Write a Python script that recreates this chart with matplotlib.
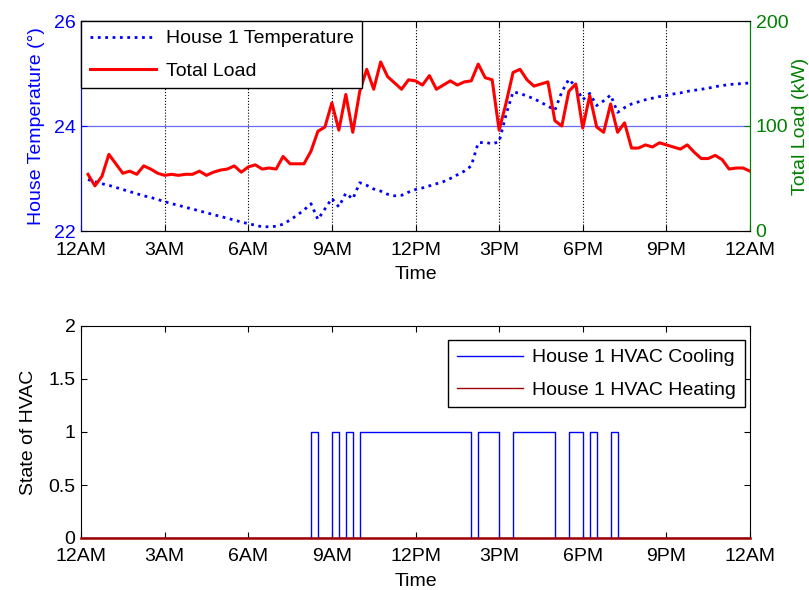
import numpy as np
import matplotlib
matplotlib.use('Agg')
import matplotlib.pyplot as plt
from matplotlib.lines import Line2D

# ---------------- data ----------------
hours = np.arange(1, 97) * 0.25  # 15-minute samples

temp = [22.98, 22.94, 22.90, 22.87, 22.83, 22.79, 22.75, 22.71, 22.67, 22.64, 22.60, 22.56,
        22.52, 22.49, 22.45, 22.42, 22.38, 22.35, 22.31, 22.28, 22.24, 22.21, 22.17, 22.14,
        22.11, 22.08, 22.08, 22.09, 22.13, 22.21, 22.30, 22.40, 22.52, 22.22, 22.42, 22.62,
        22.46, 22.72, 22.61, 22.92, 22.87, 22.80, 22.76, 22.70, 22.67, 22.68, 22.74, 22.79,
        22.82, 22.86, 22.90, 22.94, 23.00, 23.07, 23.14, 23.24, 23.68, 23.69, 23.66, 23.70,
        24.22, 24.65, 24.62, 24.57, 24.52, 24.45, 24.38, 24.30, 24.65, 24.89, 24.75, 24.50,
        24.62, 24.39, 24.48, 24.59, 24.26, 24.35, 24.42, 24.46, 24.50, 24.53, 24.56, 24.58,
        24.61, 24.63, 24.66, 24.68, 24.70, 24.72, 24.75, 24.77, 24.79, 24.80, 24.81, 24.82]

load = [54, 43, 52, 73, 64, 55, 57, 54, 62, 59, 55, 53,
        54, 53, 54, 54, 57, 53, 56, 58, 59, 62, 56, 61,
        63, 59, 60, 59, 71, 64, 64, 64, 76, 95, 99, 122,
        96, 130, 94, 133, 154, 135, 161, 147, 141, 135, 144, 143,
        139, 148, 135, 139, 143, 139, 142, 143, 159, 146, 144, 96,
        122, 151, 154, 144, 138, 140, 142, 105, 100, 133, 140, 98,
        129, 99, 94, 121, 94, 103, 79, 79, 82, 80, 84, 82,
        80, 78, 82, 75, 69, 69, 72, 68, 59, 60, 60, 57]

tick_hours = [0, 3, 6, 9, 12, 15, 18, 21, 24]
tick_labels = ['12AM', '3AM', '6AM', '9AM', '12PM', '3PM', '6PM', '9PM', '12AM']

cool_on = [8.25, 9.0, 9.5, 10.0, 14.25, 15.5, 17.5, 18.25, 19.0]
cool_off = [8.5, 9.25, 9.75, 14.0, 15.0, 17.0, 18.0, 18.5, 19.25]
heat_on = []
heat_off = []


def step_series(ons, offs):
    t, s = [0.0], [0.0]
    for a, b in zip(ons, offs):
        t += [a, a, b, b]
        s += [0, 1, 1, 0]
    t.append(24.0)
    s.append(0.0)
    return t, s


# ---------------- style ----------------
plt.rcParams['font.family'] = ['Liberation Sans', 'DejaVu Sans']
plt.rcParams['font.size'] = 14
BLUE = '#0000ff'
GREEN = '#008000'
RED = '#ff0000'
DRED = '#a00000'

W, H = 809, 590
fig = plt.figure(figsize=(W / 100, H / 100), dpi=100)

L, R = 81, 750
ax1 = fig.add_axes([L / W, 1 - 231 / H, (R - L) / W, 210 / H])
ax2 = ax1.twinx()

l1, = ax1.plot(hours, temp, color=BLUE, lw=2.0, ls=':')
l2, = ax2.plot(hours, load, color=RED, lw=2.2)

ax1.set_xlim(0, 24)
ax1.set_ylim(22, 26)
ax2.set_ylim(0, 200)
ax1.set_xticks(tick_hours)
ax1.set_xticklabels(tick_labels)
ax1.set_yticks([22, 24, 26])
ax2.set_yticks([0, 100, 200])

for x in tick_hours[1:-1]:
    ax1.axvline(x, color='k', ls=':', lw=0.8, zorder=0)
ax1.axhline(24, color='#6a6aff', lw=0.9, zorder=0)

ax1.tick_params(axis='x', direction='in', length=4, top=True, colors='k', labelcolor='k', pad=8)
ax1.tick_params(axis='y', direction='in', length=4, colors=BLUE, labelcolor=BLUE, pad=4)
ax2.tick_params(axis='y', direction='in', length=4, colors=GREEN, labelcolor=GREEN, pad=4)
ax1.spines['left'].set_color(BLUE)
ax2.spines['left'].set_color(BLUE)
ax2.spines['right'].set_color(GREEN)
ax1.spines['right'].set_color(GREEN)
for a in (ax1, ax2):
    a.spines['top'].set_color('k')
    a.spines['bottom'].set_color('k')

ax1.set_xlabel('Time', labelpad=5)
ax1.set_ylabel('House Temperature (°)', color=BLUE, labelpad=6)
ax2.set_ylabel('Total Load (kW)', color=GREEN, labelpad=3)

leg1 = ax2.legend([l1, l2], ['House 1 Temperature', 'Total Load'], loc='upper left',
                  borderaxespad=0, fancybox=False, edgecolor='k', framealpha=1,
                  handlelength=3.4, handletextpad=0.5, borderpad=0.45, labelspacing=0.75)
leg1.get_frame().set_linewidth(1.0)

# ---------------- bottom plot ----------------
ax3 = fig.add_axes([L / W, 1 - 538 / H, (R - L) / W, 212 / H])
tc, sc = step_series(cool_on, cool_off)
th, sh = step_series(heat_on, heat_off)
l3, = ax3.plot(tc, sc, color=BLUE, lw=1.0)
l4, = ax3.plot(th, sh, color=DRED, lw=1.8, zorder=5, clip_on=False)
ax3.set_xlim(0, 24)
ax3.set_ylim(0, 2)
ax3.set_xticks(tick_hours)
ax3.set_xticklabels(tick_labels)
ax3.set_yticks([0, 0.5, 1, 1.5, 2])
ax3.set_yticklabels(['0', '0.5', '1', '1.5', '2'])
ax3.tick_params(direction='in', length=4, top=True, right=True, pad=7)
ax3.tick_params(axis='y', pad=4)
ax3.set_xlabel('Time', labelpad=6)
ax3.set_ylabel('State of HVAC', labelpad=8)
leg2 = ax3.legend([l3, Line2D([], [], color=DRED, lw=1.0)],
                  ['House 1 HVAC Cooling', 'House 1 HVAC Heating'],
                  loc='upper right', bbox_to_anchor=((745 - L) / (R - L), 1 - 14 / 212),
                  borderaxespad=0, fancybox=False, edgecolor='k', framealpha=1,
                  handlelength=3.4, handletextpad=0.5, borderpad=0.45, labelspacing=0.75)
leg2.get_frame().set_linewidth(1.0)

fig.savefig('out.png', dpi=100)
